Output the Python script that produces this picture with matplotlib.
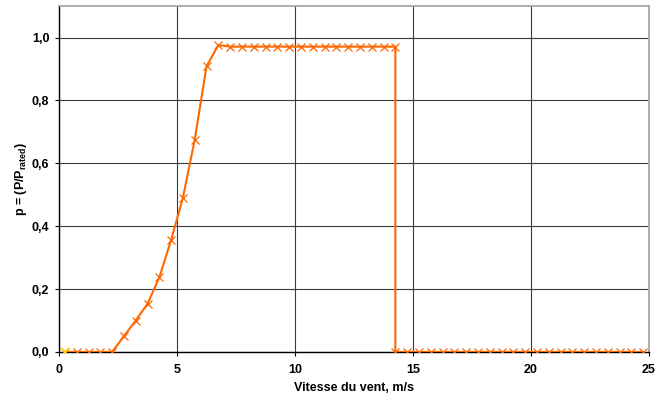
import matplotlib
matplotlib.use("Agg")
import matplotlib.pyplot as plt

plt.rcParams.update({
    "font.family": "Liberation Sans",
    "font.weight": "bold",
    "font.size": 9,
    "mathtext.fontset": "custom",
    "mathtext.bf": "Liberation Sans:bold",
    "mathtext.rm": "Liberation Sans:bold",
})

# Wind speed (m/s) and normalised power p = P/P_rated
wind_speed = [0.25, 0.75, 1.25, 1.75, 2.25, 2.75, 3.25, 3.75, 4.25, 4.75,
              5.25, 5.75, 6.25, 6.75, 7.25, 7.75, 8.25, 8.75, 9.25, 9.75,
              10.25, 10.75, 11.25, 11.75, 12.25, 12.75, 13.25, 13.75, 14.25,
              14.25, 14.75, 15.25, 15.75, 16.25, 16.75, 17.25, 17.75, 18.25,
              18.75, 19.25, 19.75, 20.25, 20.75, 21.25, 21.75, 22.25, 22.75,
              23.25, 23.75, 24.25, 24.75]
power = [0.0, 0.0, 0.0, 0.0, 0.0, 0.05, 0.10, 0.153, 0.237, 0.356,
         0.49, 0.675, 0.908, 0.976, 0.971, 0.971, 0.971, 0.971, 0.971, 0.971,
         0.971, 0.971, 0.971, 0.971, 0.971, 0.971, 0.971, 0.971, 0.971,
         0.0, 0.0, 0.0, 0.0, 0.0, 0.0, 0.0, 0.0, 0.0,
         0.0, 0.0, 0.0, 0.0, 0.0, 0.0, 0.0, 0.0, 0.0,
         0.0, 0.0, 0.0, 0.0]

# single highlighted point at the origin
extra_x = [0.25]
extra_y = [0.0]

x_ticks = [0, 5, 10, 15, 20, 25]
y_ticks = [0.0, 0.2, 0.4, 0.6, 0.8, 1.0]
y_labels = ["0,0", "0,2", "0,4", "0,6", "0,8", "1,0"]

fig = plt.figure(figsize=(6.6, 4.05), dpi=100)
ax = fig.add_axes([0.0894, 0.131, 0.894, 0.854])

ax.plot(wind_speed, power, color="#FF6600", linewidth=1.5,
        marker="x", markersize=5.5, markeredgewidth=0.9, zorder=3)
ax.plot(extra_x, extra_y, linestyle="none", marker="x", color="#FFD700",
        markersize=5.5, markeredgewidth=1.2, zorder=4)

ax.set_xlim(0, 25)
ax.set_ylim(0, 1.1)
ax.set_xticks(x_ticks)
ax.set_yticks(y_ticks)
ax.set_yticklabels(y_labels)
ax.grid(True, color="#3a3a3a", linewidth=0.8)
ax.set_axisbelow(True)

for side in ("top", "right"):
    ax.spines[side].set_color("#a0a0a0")
    ax.spines[side].set_linewidth(1.2)
for side in ("left", "bottom"):
    ax.spines[side].set_color("black")
    ax.spines[side].set_linewidth(1.0)

ax.tick_params(axis="both", direction="out", length=3, width=0.8,
               labelsize=9, pad=4)
ax.tick_params(axis="x", pad=6)

ax.set_xlabel("Vitesse du vent, m/s", fontsize=9, fontweight="bold", labelpad=4)
ax.set_ylabel(r"p = (P/P$_{\mathrm{rated}}$)", fontsize=9, fontweight="bold",
              labelpad=2)

fig.savefig("out.png", dpi=100)
